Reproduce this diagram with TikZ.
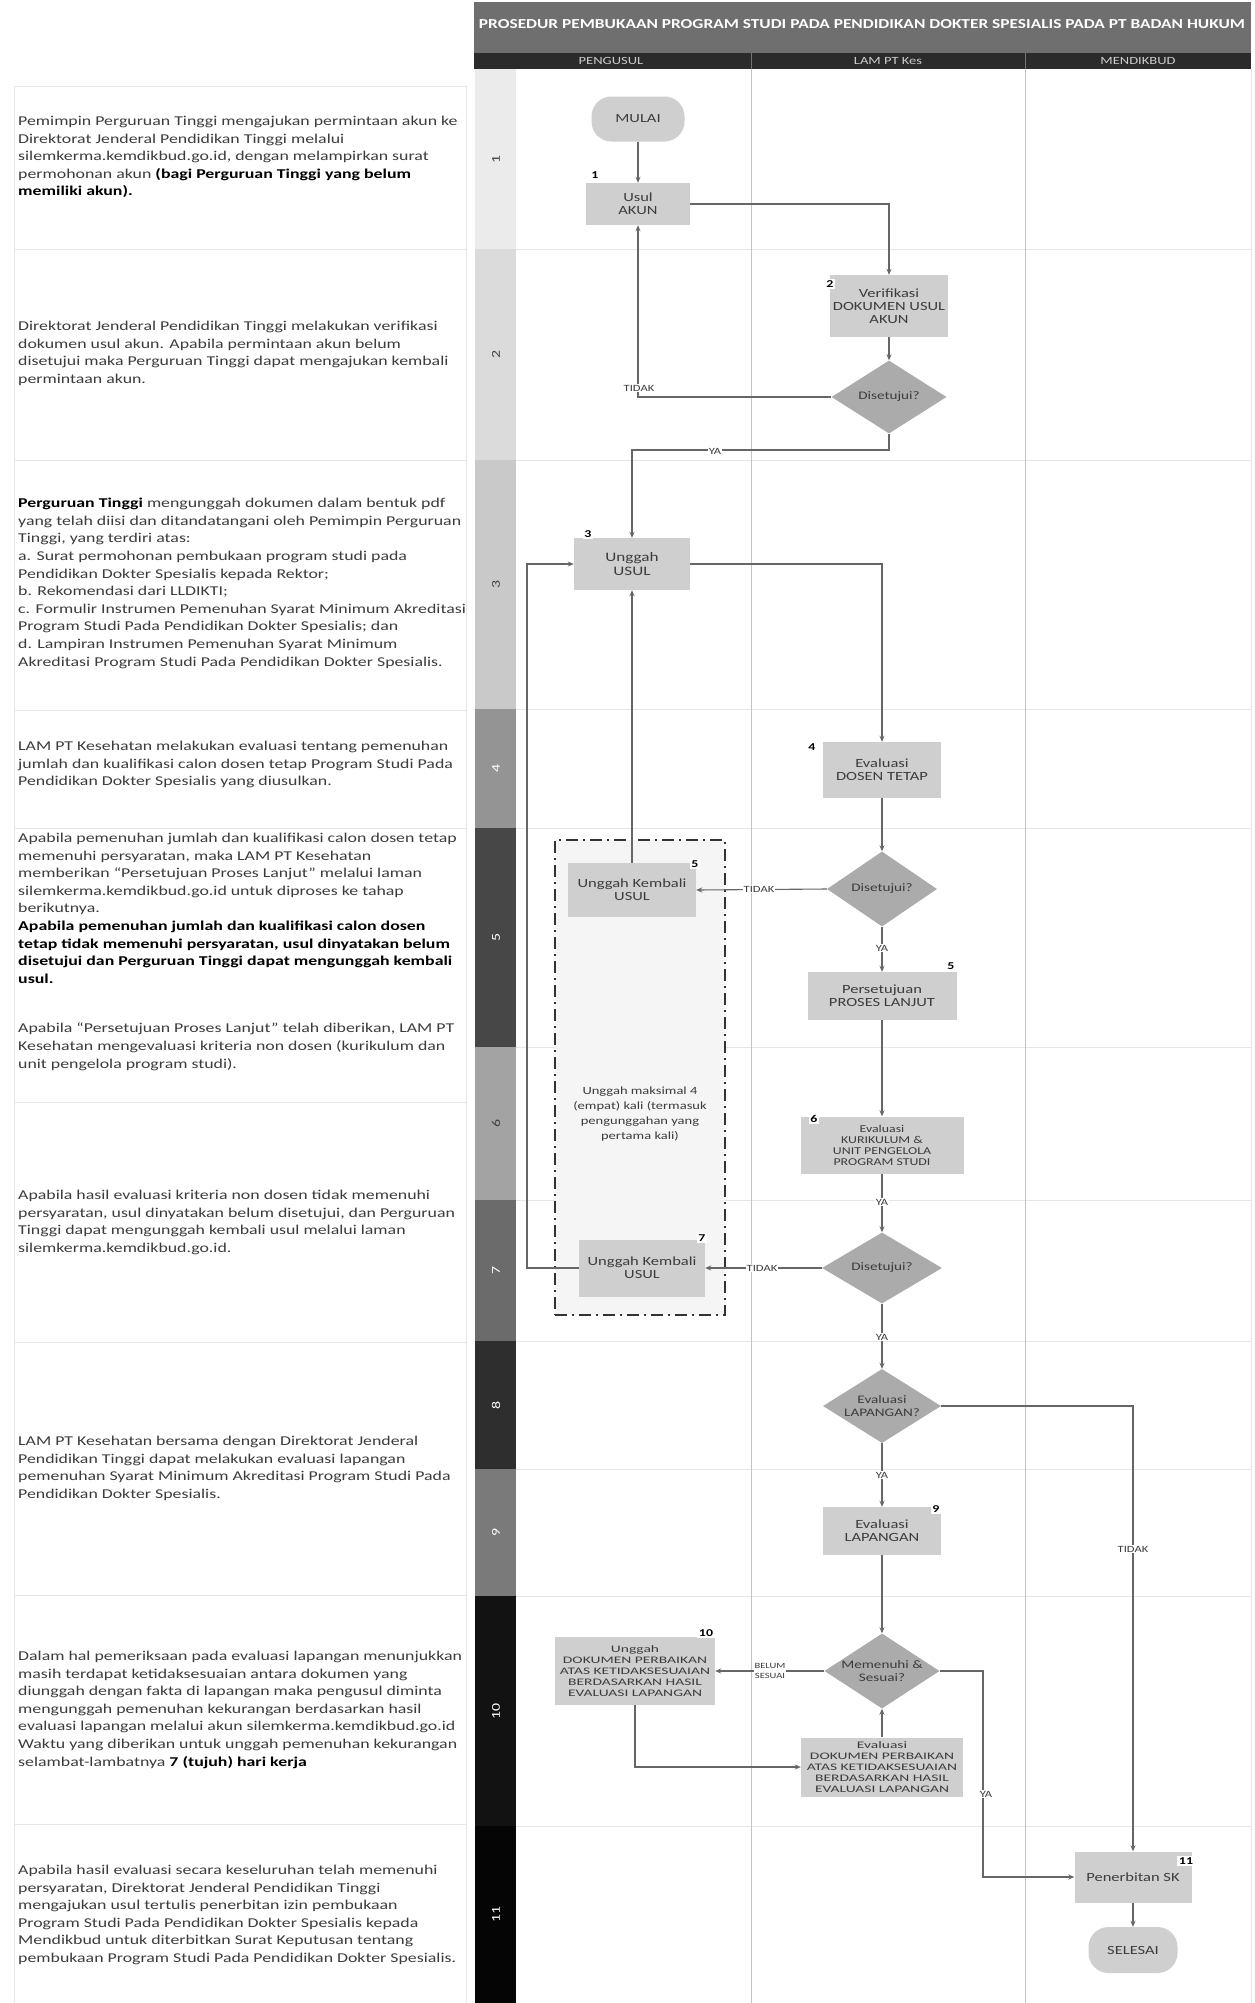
\documentclass[tikz,border=0pt]{standalone}
\usepackage{fontspec}
\setmainfont{Carlito}[FakeStretch=1.32]
\newfontfamily\widefont{Carlito}[FakeStretch=1.55]
\usepackage{graphicx}
\usetikzlibrary{shapes.geometric,arrows.meta,calc}
\definecolor{txt}{HTML}{3C3C3C}
\definecolor{boxg}{HTML}{CFCFCF}
\definecolor{decg}{HTML}{ABABAB}
\definecolor{lineg}{HTML}{666666}
\definecolor{faint}{HTML}{E6E6E6}
\definecolor{lane}{HTML}{C4C4C4}
\definecolor{titleg}{HTML}{6F6F6F}
\definecolor{headg}{HTML}{2B2B2B}
\begin{document}
\begin{tikzpicture}[x=1pt,y=-1pt,
  panel/.style={anchor=north west,inner sep=0pt,align=left,text=txt,font=\fontsize{13.5}{17.6}\selectfont},
  proc/.style={rectangle,fill=boxg,inner sep=1pt,align=center,text=txt,font=\fontsize{12.5}{13}\selectfont},
  widebox/.style={proc,font=\widefont\fontsize{10}{11}\selectfont},
  dec/.style={diamond,fill=decg,shape aspect=1.6,inner sep=0pt,align=center,text=txt,font=\fontsize{11.5}{13}\selectfont},
  term/.style={rectangle,rounded corners=20pt,fill=boxg,inner sep=1pt,align=center,text=txt,font=\fontsize{12.5}{13}\selectfont},
  badge/.style={fill=white,inner sep=1.5pt,text=black,font=\bfseries\fontsize{10.5}{12}\selectfont},
  lbl/.style={fill=white,inner sep=1pt,text=txt,font=\fontsize{9.5}{10}\selectfont},
  conn/.style={draw=lineg,line width=1.1pt},
  arr/.style={conn,-{Stealth[length=6pt,width=5pt]}},
  stepno/.style={rotate=90,font=\fontsize{12}{12}\selectfont},
  lanehead/.style={text=white!80!black,font=\fontsize{11}{11}\selectfont},
]
\useasboundingbox (0,0) rectangle (1254,2003);
\fill[white] (0,0) rectangle (1254,2003);

% ---------- left description panels ----------
\draw[faint,line width=0.8pt] (14,86) -- (14,2003) (466,86) -- (466,2003);
\foreach \y in {86,249,460,710,828,1102,1342,1595,1824}
  \draw[faint,line width=0.8pt] (14,\y) -- (466,\y);

\node[panel] (t1) at (18,116) {Pemimpin Perguruan Tinggi mengajukan permintaan akun ke\\
Direktorat Jenderal Pendidikan Tinggi melalui\\
silemkerma.kemdikbud.go.id, dengan melampirkan surat\\
permohonan akun \textbf{\color{black}(bagi Perguruan Tinggi yang belum}\\
\textbf{\color{black}memiliki akun).}};

\node[panel] (t2) at (18,321) {Direktorat Jenderal Pendidikan Tinggi melakukan verifikasi\\
dokumen usul akun. Apabila permintaan akun belum\\
disetujui maka Perguruan Tinggi dapat mengajukan kembali\\
permintaan akun.};

\node[panel] (t3) at (18,498) {\textbf{\color{black}Perguruan Tinggi} mengunggah dokumen dalam bentuk pdf\\
yang telah diisi dan ditandatangani oleh Pemimpin Perguruan\\
Tinggi, yang terdiri atas:\\
a. Surat permohonan pembukaan program studi pada\\
Pendidikan Dokter Spesialis kepada Rektor;\\
b. Rekomendasi dari LLDIKTI;\\
c. Formulir Instrumen Pemenuhan Syarat Minimum Akreditasi\\
Program Studi Pada Pendidikan Dokter Spesialis; dan\\
d. Lampiran Instrumen Pemenuhan Syarat Minimum\\
Akreditasi Program Studi Pada Pendidikan Dokter Spesialis.};

\node[panel] (t4) at (18,741) {LAM PT Kesehatan melakukan evaluasi tentang pemenuhan\\
jumlah dan kualifikasi calon dosen tetap Program Studi Pada\\
Pendidikan Dokter Spesialis yang diusulkan.};

\node[panel] (t5) at (18,833) {Apabila pemenuhan jumlah dan kualifikasi calon dosen tetap\\
memenuhi persyaratan, maka LAM PT Kesehatan\\
memberikan “Persetujuan Proses Lanjut” melalui laman\\
silemkerma.kemdikbud.go.id untuk diproses ke tahap\\
berikutnya.\\
\textbf{\color{black}Apabila pemenuhan jumlah dan kualifikasi calon dosen}\\
\textbf{\color{black}tetap tidak memenuhi persyaratan, usul dinyatakan belum}\\
\textbf{\color{black}disetujui dan Perguruan Tinggi dapat mengunggah kembali}\\
\textbf{\color{black}usul.}};

\node[panel] (t6) at (18,1023) {Apabila “Persetujuan Proses Lanjut” telah diberikan, LAM PT\\
Kesehatan mengevaluasi kriteria non dosen (kurikulum dan\\
unit pengelola program studi).};

\node[panel] (t7) at (18,1190) {Apabila hasil evaluasi kriteria non dosen tidak memenuhi\\
persyaratan, usul dinyatakan belum disetujui, dan Perguruan\\
Tinggi dapat mengunggah kembali usul melalui laman\\
silemkerma.kemdikbud.go.id.};

\node[panel] (t8) at (18,1436) {LAM PT Kesehatan bersama dengan Direktorat Jenderal\\
Pendidikan Tinggi dapat melakukan evaluasi lapangan\\
pemenuhan Syarat Minimum Akreditasi Program Studi Pada\\
Pendidikan Dokter Spesialis.};

\node[panel] (t10) at (18,1651) {Dalam hal pemeriksaan pada evaluasi lapangan menunjukkan\\
masih terdapat ketidaksesuaian antara dokumen yang\\
diunggah dengan fakta di lapangan maka pengusul diminta\\
mengunggah pemenuhan kekurangan berdasarkan hasil\\
evaluasi lapangan melalui akun silemkerma.kemdikbud.go.id\\
Waktu yang diberikan untuk unggah pemenuhan kekurangan\\
selambat-lambatnya \textbf{\color{black}7 (tujuh) hari kerja}};

\node[panel] (t11) at (18,1865) {Apabila hasil evaluasi secara keseluruhan telah memenuhi\\
persyaratan, Direktorat Jenderal Pendidikan Tinggi\\
mengajukan usul tertulis penerbitan izin pembukaan\\
Program Studi Pada Pendidikan Dokter Spesialis kepada\\
Mendikbud untuk diterbitkan Surat Keputusan tentang\\
pembukaan Program Studi Pada Pendidikan Dokter Spesialis.};

% ---------- header ----------
\fill[titleg] (474,2) rectangle (1251,53);
\node[text=white,font=\bfseries\fontsize{14}{16}\selectfont] (title) at (862,24)
  {\resizebox{766pt}{9pt}{PROSEDUR PEMBUKAAN PROGRAM STUDI PADA PENDIDIKAN DOKTER SPESIALIS PADA PT BADAN HUKUM}};
\fill[headg] (474,53) rectangle (1251,69);
\draw[black!55,line width=0.8pt] (751,53) -- (751,69) (1025,53) -- (1025,69);
\node[lanehead] (h1) at (611,61) {PENGUSUL};
\node[lanehead] (h2) at (888,61) {LAM PT Kes};
\node[lanehead] (h3) at (1138,61) {MENDIKBUD};

% ---------- step strip ----------
\foreach \ya/\yb/\c/\n in {69/249/8/1, 249/460/14/2, 460/709/21/3, 709/828/42/4, 828/1047/72/5,
  1047/1200/36/6, 1200/1341/58/7, 1341/1469/82/8, 1469/1596/52/9, 1596/1826/93/10, 1826/2003/98/11}{
  \fill[black!\c] (475,\ya) rectangle (516,\yb);
  \pgfmathsetmacro{\tc}{\c>40 ? 100 : 0}
  \ifdim\tc pt>50pt
    \node[stepno,text=white] (n\n) at (496,{(\ya+\yb)/2}) {\n};
  \else
    \node[stepno,text=black!75] (n\n) at (496,{(\ya+\yb)/2}) {\n};
  \fi
}

% ---------- lanes ----------
\foreach \y in {249,460,709,828,1047,1200,1341,1469,1596,1826}
  \draw[faint,line width=0.8pt] (516,\y) -- (1251,\y);
\draw[lane,line width=0.8pt] (751,69) -- (751,2003) (1025,69) -- (1025,2003);
\draw[faint,line width=0.8pt] (1251,69) -- (1251,2003);

% ---------- group box ----------
\node[draw=black!80,line width=1.6pt,dash pattern=on 12pt off 5pt on 2pt off 5pt,fill=black!4,
  minimum width=170,minimum height=475,inner sep=0pt] (grp) at (640,1077.5) {};
\node[align=center,text=txt,font=\fontsize{11}{15}\selectfont] (grptxt) at (640,1114)
  {Unggah maksimal 4\\(empat) kali (termasuk\\pengunggahan yang\\pertama kali)};

% ---------- flow nodes ----------
\node[term,minimum width=93,minimum height=45] (mulai) at (638,119) {MULAI};
\node[proc,minimum width=104,minimum height=42] (s1) at (638,204) {Usul\\AKUN};
\node[proc,minimum width=118,minimum height=62] (s2) at (889,306) {Verifikasi\\DOKUMEN USUL\\AKUN};
\node[dec,minimum width=115,minimum height=73] (d1) at (889,397) {Disetujui?};
\node[proc,minimum width=116,minimum height=52,font=\fontsize{13}{14}\selectfont] (s3) at (632,564) {Unggah\\USUL};
\node[proc,minimum width=118,minimum height=56] (s4) at (882,770) {Evaluasi\\DOSEN TETAP};
\node[dec,minimum width=110,minimum height=75] (d2) at (882,889) {Disetujui?};
\node[proc,minimum width=128,minimum height=54] (s5) at (632,890) {Unggah Kembali\\USUL};
\node[proc,minimum width=149,minimum height=48] (s5b) at (882,996) {Persetujuan\\PROSES LANJUT};
\node[proc,minimum width=163,minimum height=57,font=\fontsize{10.5}{11}\selectfont] (s6) at (882,1145)
  {Evaluasi\\KURIKULUM \&\\UNIT PENGELOLA\\PROGRAM STUDI};
\node[dec,minimum width=120,minimum height=71] (d3) at (882,1268) {Disetujui?};
\node[proc,minimum width=126,minimum height=57] (s7) at (642,1268) {Unggah Kembali\\USUL};
\node[dec,minimum width=118,minimum height=74] (d4) at (882,1406) {Evaluasi\\LAPANGAN?};
\node[proc,minimum width=118,minimum height=48] (s9) at (882,1531) {Evaluasi\\LAPANGAN};
\node[dec,minimum width=114,minimum height=75] (d5) at (882,1671) {Memenuhi \&\\Sesuai?};
\node[widebox,minimum width=160,minimum height=68] (s10) at (635,1671)
  {Unggah\\DOKUMEN PERBAIKAN\\ATAS KETIDAKSESUAIAN\\BERDASARKAN HASIL\\EVALUASI LAPANGAN};
\node[widebox,minimum width=162,minimum height=59] (s10b) at (882,1767)
  {Evaluasi\\DOKUMEN PERBAIKAN\\ATAS KETIDAKSESUAIAN\\BERDASARKAN HASIL\\EVALUASI LAPANGAN};
\node[proc,minimum width=117,minimum height=51] (s11) at (1133,1877) {Penerbitan SK};
\node[term,minimum width=89,minimum height=46] (selesai) at (1133,1950) {SELESAI};

% ---------- connectors ----------
\coordinate (ya1) at (760,450);
\coordinate (lp) at (527,1268);
\coordinate (ya2) at (983,1780);
\draw[arr] (mulai) -- (s1);
\draw[arr] (s1.east) -| (s2.north);
\draw[arr] (s2) -- (d1);
\draw[arr] (d1.west) -| (s1.south);
\draw[arr] (d1.south) |- (ya1) -| (s3.north);
\draw[arr] (s3.east) -| (s4.north);
\draw[arr] (s4) -- (d2);
\draw[arr] (d2.west) -- (s5.east);
\draw[arr] (s5.north) -- (s3.south);
\draw[arr] (d2) -- (s5b);
\draw[arr] (s5b) -- (s6);
\draw[arr] (s6) -- (d3);
\draw[arr] (d3.west) -- (s7.east);
\draw[arr] (s7.west) -- (lp) |- (s3.west);
\draw[arr] (d3) -- (d4);
\draw[arr] (d4.east) -| (s11.north);
\draw[arr] (d4) -- (s9);
\draw[arr] (s9) -- (d5);
\draw[arr] (d5.west) -- (s10.east);
\draw[arr] (s10.south) |- (s10b.west);
\draw[arr] (s10b) -- (d5);
\draw[arr] (d5.east) -| (ya2) |- (s11.west);
\draw[arr] (s11) -- (selesai);

% ---------- connector labels ----------
\node[lbl] (l1) at (639,388) {TIDAK};
\node[lbl] (l2) at (715,451) {YA};
\node[lbl] (l3) at (759,889) {TIDAK};
\node[lbl] (l4) at (882,948) {YA};
\node[lbl] (l5) at (882,1202) {YA};
\node[lbl] (l6) at (762,1268) {TIDAK};
\node[lbl] (l7) at (882,1337) {YA};
\node[lbl] (l8) at (882,1475) {YA};
\node[lbl] (l9) at (1133,1549) {TIDAK};
\node[lbl,align=center,font=\fontsize{8}{10}\selectfont] (l10) at (770,1671) {BELUM\\SESUAI};
\node[lbl] (l11) at (986,1794) {YA};

% ---------- step badges ----------
\node[badge] (b1) at (595,175) {1};
\node[badge] (b2) at (830,284) {2};
\node[badge] (b3) at (588,534) {3};
\node[badge] (b4) at (812,747) {4};
\node[badge] (b5) at (695,864) {5};
\node[badge] (b5b) at (951,966) {5};
\node[badge] (b6) at (814,1119) {6};
\node[badge] (b7) at (702,1238) {7};
\node[badge] (b9) at (936,1509) {9};
\node[badge] (b10) at (706,1633) {10};
\node[badge] (b11) at (1186,1861) {11};
\end{tikzpicture}
\end{document}
